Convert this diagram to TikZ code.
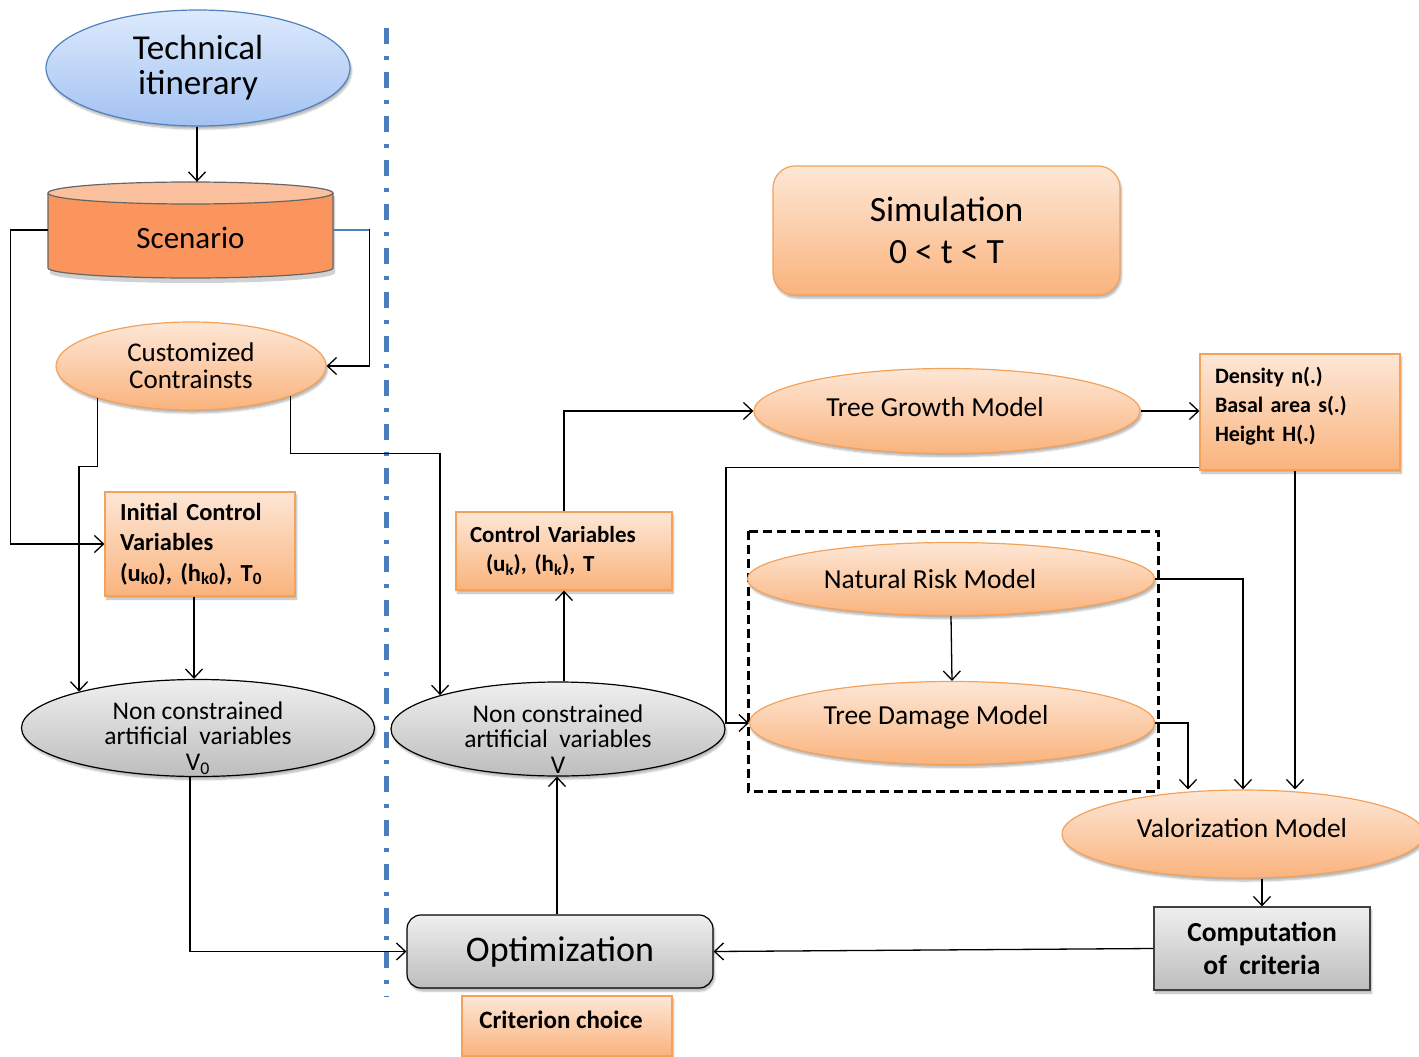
\documentclass[tikz,border=0pt]{standalone}
\usepackage{fontspec}
\setmainfont{Carlito}
\usetikzlibrary{shapes.geometric,arrows.meta,shadows.blur,calc}
\definecolor{blTop}{HTML}{DDEAFC}
\definecolor{blBot}{HTML}{A3C2F2}
\definecolor{blBorder}{HTML}{4F81BD}
\definecolor{orTop}{HTML}{FDE7D6}
\definecolor{orBot}{HTML}{FAB37D}
\definecolor{orBorder}{HTML}{F4A25A}
\definecolor{scBody}{HTML}{F9955D}
\definecolor{scTop}{HTML}{FBC09E}
\definecolor{grTop}{HTML}{EFEFEF}
\definecolor{grBot}{HTML}{BDBDBD}
\definecolor{sepBlue}{HTML}{4A7EBB}
\tikzset{
  shad/.style={blur shadow={shadow xshift=1.5pt,shadow yshift=-3pt,shadow blur steps=6,shadow opacity=30}},
  orell/.style={ellipse,draw=orBorder,line width=1.2pt,top color=orTop,bottom color=orBot,inner sep=0pt,shad,align=center},
  grell/.style={ellipse,draw=black,line width=1.2pt,top color=grTop,bottom color=grBot,inner sep=0pt,shad,align=center},
  orbox/.style={rectangle,draw=orBorder,line width=1.2pt,top color=orTop,bottom color=orBot,inner sep=0pt,shad},
  grbox/.style={rectangle,draw=black!75,line width=1.2pt,top color=grTop,bottom color=grBot,inner sep=0pt,shad,align=center},
  conn/.style={draw,line width=1.3pt,-{Straight Barb[length=9pt,width=17pt,line width=1.3pt]}},
  txt/.style={inner sep=0pt,align=center},
}
\begin{document}
\begin{tikzpicture}[x=1pt,y=-1pt]
\useasboundingbox (0,0) rectangle (1419,1057);

% separator
\draw[sepBlue,line width=5pt,dash pattern=on 16pt off 12pt on 4pt off 12pt] (386,28) -- (386,997);

% Technical itinerary
\node[ellipse,draw=blBorder,line width=1.2pt,top color=blTop,bottom color=blBot,minimum width=304pt,minimum height=116pt,inner sep=0pt,shad,align=center,font=\fontsize{35}{35}\selectfont] (tech) at (198,68) {Technical\\itinerary};

% Scenario cylinder
\fill[black,opacity=0.18] (50,196) -- (50,273) arc[start angle=180,end angle=0,x radius=142.5,y radius=10] -- (335,196) -- cycle;
\draw[draw=gray!80!black,line width=1.2pt,fill=scBody] (48,193) -- (48,268) arc[start angle=180,end angle=0,x radius=142.5,y radius=10] -- (333,193);
\draw[draw=gray!80!black,line width=1.2pt,fill=scTop] (190.5,193) ellipse[x radius=142.5,y radius=11];
\node[rectangle,minimum width=285pt,minimum height=96pt,inner sep=0pt,
  label={[txt,yshift=-8pt,font=\fontsize{31}{31}\selectfont]center:Scenario}] (scen) at (190.5,230) {};

% Customized Contraints
\node[orell,minimum width=270pt,minimum height=88pt,font=\fontsize{27}{27}\selectfont] (cust) at (191,366) {Customized\\Contrainsts};

% Initial Control Variables
\node[orbox,minimum width=190pt,minimum height=104pt,font=\bfseries\fontsize{24.5}{30.5}\selectfont,align=left,text width=160pt] (icv) at (200,544) {Initial Control\\Variables\\(u\textsubscript{k0}), (h\textsubscript{k0}), T\textsubscript{0}};

% Non constrained V0
\node[grell,minimum width=353pt,minimum height=97pt,
  label={[txt,yshift=-10pt,font=\fontsize{25.5}{25.5}\selectfont]center:Non constrained\\artificial~ variables\\V\textsubscript{0}}] (ncav0) at (198,728) {};

% Non constrained V
\node[grell,minimum width=334pt,minimum height=94pt,
  label={[txt,yshift=-10pt,font=\fontsize{25.5}{25.5}\selectfont]center:Non constrained\\artificial~ variables\\V}] (ncav) at (558,729) {};

% Control Variables
\node[orbox,minimum width=216pt,minimum height=78pt,font=\bfseries\fontsize{23}{29}\selectfont,align=left,text width=188pt] (cv) at (564,551) {Control Variables\\\hspace*{16pt}(u\textsubscript{k}), (h\textsubscript{k}), T};

% Simulation
\node[orbox,rounded corners=22pt,minimum width=347pt,minimum height=129pt,font=\fontsize{35.5}{42}\selectfont,align=center] (sim) at (946.5,230.5) {Simulation\\0 < t < T};

% Tree Growth Model
\node[orell,minimum width=386pt,minimum height=85pt,
  label={[txt,xshift=-12pt,yshift=4pt,font=\fontsize{27.5}{27.5}\selectfont]center:Tree Growth Model}] (tgm) at (947,411) {};

% Density box
\node[orbox,minimum width=200pt,minimum height=116pt,
  label={[txt,align=left,text width=170pt,yshift=6pt,font=\bfseries\fontsize{22}{29}\selectfont]center:Density n(.)\\Basal area s(.)\\Height H(.)}] (dens) at (1300,412) {};

% dashed group
\draw[line width=3pt,dash pattern=on 9pt off 5pt] (748,531) rectangle (1158,791);

% Natural Risk / Tree Damage
\node[orell,minimum width=407pt,minimum height=73pt,
  label={[txt,xshift=-21pt,font=\fontsize{27.5}{27.5}\selectfont]center:Natural Risk Model}] (nrm) at (951,579) {};
\node[orell,minimum width=405pt,minimum height=83pt,
  label={[txt,xshift=-16pt,yshift=6pt,font=\fontsize{27.5}{27.5}\selectfont]center:Tree Damage Model}] (tdm) at (952,723) {};

% Valorization
\node[orell,minimum width=362pt,minimum height=88pt,
  label={[txt,xshift=-1pt,yshift=6pt,font=\fontsize{27.5}{27.5}\selectfont]center:Valorization Model}] (val) at (1243,834) {};

% Computation of criteria
\node[grbox,minimum width=216pt,minimum height=83pt,font=\bfseries\fontsize{27.5}{33}\selectfont] (comp) at (1262,948.5) {Computation\\of~ criteria};

% Optimization
\node[grbox,draw=black,rounded corners=14pt,minimum width=306pt,minimum height=73pt,font=\fontsize{36}{36}\selectfont] (opt) at (560,951.5) {Optimization};

% Criterion choice
\node[orbox,minimum width=210pt,minimum height=60pt,
  label={[txt,xshift=-6pt,yshift=6pt,font=\bfseries\fontsize{25}{25}\selectfont]center:Criterion choice}] (crit) at (567,1026) {};

% connectors
\draw[conn] (tech.south -| 197,0) -- (scen.north -| 197,0);
\draw[conn] (scen.west) -- ++(-37,0) |- (icv.west);
\draw[conn] (scen.east) -- ++(36,0) |- (cust.east);
\draw[blBorder,line width=1.3pt] (scen.east) -- ++(35.3,0);
\draw[conn] (cust.199.3) -- ++(0,68) -| (ncav0.163.7);
\draw[conn] (cust.-17.8) -- ++(0,57) -| (ncav.164.5);
\draw[conn] ([xshift=-6pt]icv.south) -- ([xshift=-6pt]icv.south |- ncav0.north);
\draw[conn] ([xshift=-8pt]ncav0.south) |- (opt.west);
\draw[conn] ([xshift=-3pt]opt.north) -- ([xshift=-3pt]opt.north |- ncav.south);
\draw[conn] (cv.south |- ncav.north) -- (cv.south);
\draw[conn] (cv.north) |- (tgm.west);
\draw[conn] (tgm.east) -- (tgm.east -| dens.west);
\draw[conn] ([yshift=3pt]dens.south west) -| ([xshift=-23pt]tdm.west) -- (tdm.west);
\draw[conn] ([xshift=-5pt]dens.south) -- ([xshift=-5pt]dens.south |- val.north);
\draw[conn] (nrm.south) -- (tdm.north);
\draw[conn] (nrm.east) -| (val.north);
\draw[conn] (tdm.east) -| ([xshift=-55pt]val.north);
\draw[conn] (comp.north |- val.south) -- (comp.north);
\draw[conn] (comp.west) -- (opt.east);
\end{tikzpicture}
\end{document}
